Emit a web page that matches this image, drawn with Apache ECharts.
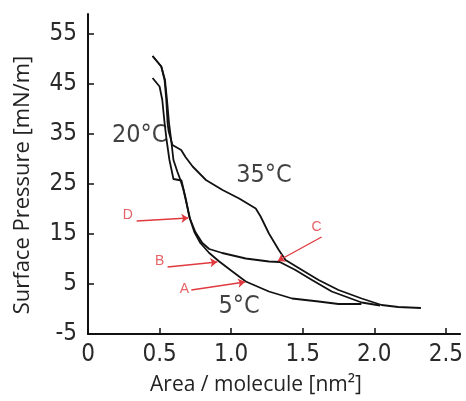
<!DOCTYPE html>
<html><head><meta charset="utf-8">
<script src="https://cdn.jsdelivr.net/npm/echarts@6/dist/echarts.min.js"></script>
<style>html,body{margin:0;padding:0;background:#fff}#c{width:466px;height:401px}</style>
</head><body><div id="c"></div>
<script>
// ---- data (area nm², pressure mN/m) ----
const area35 = [0.451,0.512,0.535,0.547,0.556,0.563,0.590,0.651,0.681,0.731,0.824,0.940,1.056,1.172,1.206,1.264,1.333,1.380,1.495,1.611,1.750,1.912,2.051,2.167,2.326];
const pres35 = [50.6,48.5,45.8,41.8,37.2,35.6,32.8,31.8,30.4,28.5,25.8,23.8,22.1,20.1,18.5,15.1,11.8,9.8,7.8,5.8,3.8,2.1,0.8,0.4,0.2];
const area20 = [0.451,0.500,0.519,0.535,0.549,0.569,0.597,0.653,0.685,0.708,0.750,0.799,0.847,0.938,1.102,1.264,1.340,1.449,1.565,1.703,1.912,2.040];
const pres20 = [46.2,44.5,41.8,37.2,33.8,29.8,26.0,25.7,21.8,18.4,15.4,13.2,12.0,11.2,10.1,9.5,9.4,7.8,5.8,3.5,1.3,0.7];
const area5  = [0.451,0.512,0.538,0.552,0.566,0.581,0.597,0.625,0.646,0.667,0.691,0.715,0.743,0.785,0.847,0.917,1.009,1.102,1.264,1.426,1.611,1.750,1.910];
const pres5  = [50.6,48.5,45.8,41.8,37.2,33.8,29.8,27.4,25.8,23.8,20.8,17.8,15.4,13.2,11.2,9.5,7.5,5.5,3.5,2.1,1.5,1.0,1.0];

const xTicks = [0,0.5,1.0,1.5,2.0,2.5];
const xTickLabels = ['0','0.5','1.0','1.5','2.0','2.5'];
const yTicks = [-5,5,15,25,35,45,55];
const yTickLabels = ['-5','5','15','25','35','45','55'];

const tempLabels = ['20°C','35°C','5°C'];
const tempX = [0.361,1.229,1.056];
const tempY = [34.8,26.8,0.6];

const markLetters = ['D','B','A','C'];
const markLabelX = [0.278,0.500,0.674,1.597];
const markLabelY = [18.8,9.6,4.0,16.4];
const arrowFromX = [0.340,0.556,0.722,1.632];
const arrowFromY = [17.6,8.4,3.8,14.4];
const arrowToX = [0.701,0.903,1.097,1.326];
const arrowToY = [18.2,9.4,5.4,9.6];

const tickFont = "'Liberation Sans Narrow','DejaVu Sans Condensed',sans-serif";
const titleFont = "'Open Sans','Noto Sans',sans-serif";
const red = '#e0393e';

function zip(a,b){return a.map((v,i)=>[v,b[i]]);}
function curve(name,a,p){
  return {name,type:'line',data:zip(a,p),showSymbol:false,smooth:false,
    lineStyle:{color:'#111',width:1.8,join:'round'},silent:true,z:3};
}

const chart = echarts.init(document.getElementById('c'),null,{renderer:'canvas'});
chart.setOption({
  animation:false,
  grid:{left:88,right:3.6,top:14,bottom:67,containLabel:false},
  xAxis:{type:'value',min:0,max:2.6,
    axisLine:{show:true,onZero:false,lineStyle:{color:'#111',width:2}},
    axisTick:{show:true,inside:true,length:6,customValues:xTicks,lineStyle:{color:'#111',width:1.5}},
    axisLabel:{customValues:xTicks,margin:9,color:'#2a2a2a',fontFamily:tickFont,fontSize:24,
      formatter:v=>{const i=xTicks.findIndex(t=>Math.abs(t-v)<1e-6);return i>=0?xTickLabels[i]:'';}},
    splitLine:{show:false}},
  yAxis:{type:'value',min:-5,max:59,
    axisLine:{show:true,onZero:false,lineStyle:{color:'#111',width:2}},
    axisTick:{show:true,inside:true,length:6,customValues:yTicks,lineStyle:{color:'#111',width:1.5}},
    axisLabel:{customValues:yTicks,margin:11,color:'#2a2a2a',fontFamily:tickFont,fontSize:24,
      formatter:v=>{const i=yTicks.findIndex(t=>Math.abs(t-v)<1e-6);return i>=0?yTickLabels[i]:'';}},
    splitLine:{show:false}},
  graphic:[
    {type:'text',x:256,y:385,style:{text:'Area / molecule [nm²]',align:'center',verticalAlign:'middle',
      font:"21px "+titleFont,fill:'#222'}},
    {type:'text',rotation:Math.PI/2,x:23,y:185,style:{text:'Surface Pressure [mN/m]',align:'center',verticalAlign:'middle',
      font:"22px "+titleFont,fill:'#222'}}
  ],
  series:[
    curve('35°C',area35,pres35),
    curve('20°C',area20,pres20),
    curve('5°C',area5,pres5),
    {type:'scatter',data:tempLabels.map((t,i)=>({value:[tempX[i],tempY[i]],name:t})),
      symbolSize:0,silent:true,
      label:{show:true,position:'inside',formatter:p=>p.name,fontFamily:tickFont,fontSize:25,color:'#111'}},
    {type:'lines',coordinateSystem:'cartesian2d',silent:true,
      data:markLetters.map((m,i)=>({coords:[[arrowFromX[i],arrowFromY[i]],[arrowToX[i],arrowToY[i]]]})),
      symbol:['none','arrow'],symbolSize:7,lineStyle:{color:red,width:1.3,opacity:1},z:4},
    {type:'scatter',data:markLetters.map((m,i)=>({value:[markLabelX[i],markLabelY[i]],name:m})),
      symbolSize:0,silent:true,
      label:{show:true,position:'inside',formatter:p=>p.name,fontFamily:"'Liberation Sans','Open Sans',sans-serif",fontSize:14,color:red}}
  ]
});
</script></body></html>
